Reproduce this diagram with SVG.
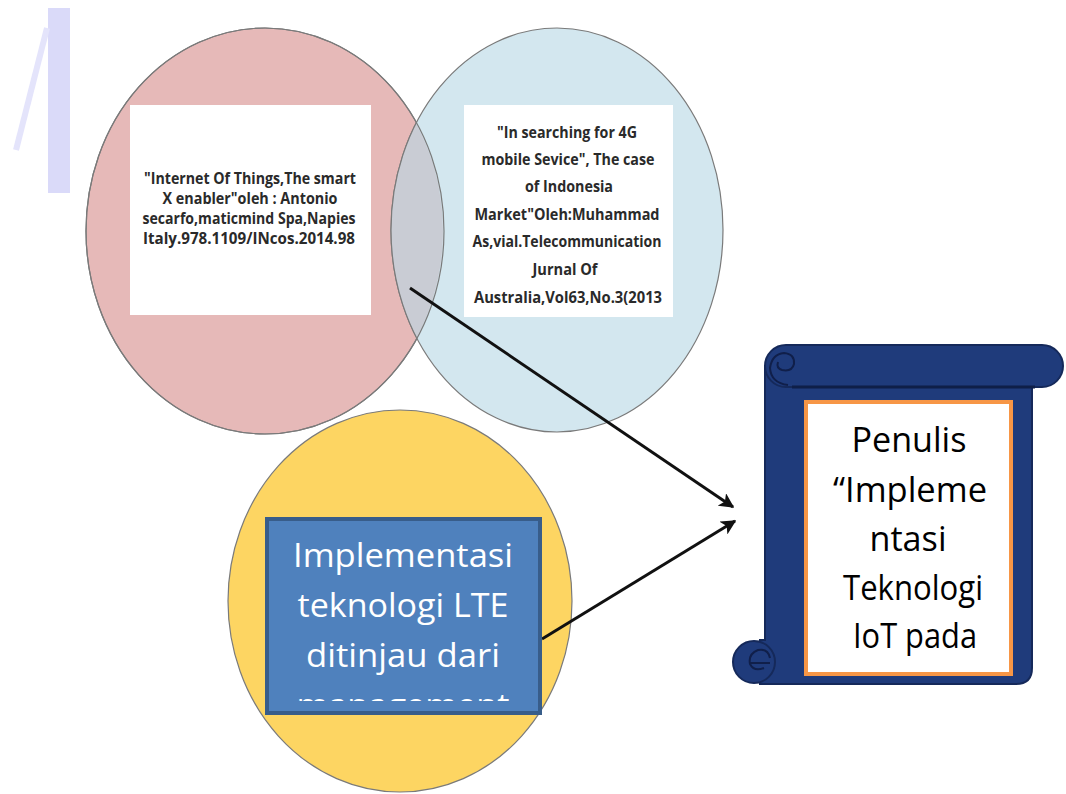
<svg xmlns="http://www.w3.org/2000/svg" width="1066" height="794" viewBox="0 0 1066 794">
<style>
.circ{stroke:#7a7a7a;stroke-width:1.2}
.ref{font-family:"Open Sans","Liberation Sans",sans-serif;font-weight:bold;fill:#2a2a2a;text-anchor:middle}
.big{font-family:"Open Sans","Liberation Sans",sans-serif;text-anchor:middle}
.scroll{fill:#1f3b7b;stroke:#15295a;stroke-width:2}
.curl{fill:none;stroke:#101f4a;stroke-width:2}
.conn{stroke:#111;stroke-width:3;fill:none;marker-end:url(#ah)}
</style>
<defs>
<marker id="ah" viewBox="0 0 10 10" refX="9" refY="5" markerWidth="5" markerHeight="5" orient="auto" markerUnits="strokeWidth">
<path d="M0,0 L10,5 L0,10 L2.5,5 z" fill="#111"/>
</marker>
<clipPath id="pinkClip"><ellipse cx="265" cy="231" rx="178" ry="203"/></clipPath>
<clipPath id="mgmtClip"><rect x="265" y="517" width="277" height="184"/></clipPath>
</defs>
<rect width="1066" height="794" fill="#fff"/>
<g id="watermark">
<rect x="48" y="8" width="22" height="185" fill="#dadaf9"/>
<line x1="47" y1="28" x2="16" y2="150" stroke="#e4e4fb" stroke-width="6"/>
</g>
<g id="node-pink">
<ellipse class="circ" cx="265" cy="231" rx="179" ry="203" fill="#e6b9b8"/>
</g>
<g id="node-blue">
<ellipse class="circ" cx="557" cy="230" rx="166" ry="202" fill="#d3e7ef"/>
<ellipse cx="557" cy="230" rx="166" ry="202" fill="#c9ccd4" stroke="#7a7a7a" stroke-width="1.2" clip-path="url(#pinkClip)"/>
<ellipse cx="265" cy="231" rx="179" ry="203" fill="none" stroke="#7a7a7a" stroke-width="1.2"/>
</g>
<g id="node-pink-text">
<rect x="130" y="105" width="241" height="210" fill="#fff"/>
<text class="ref" font-size="16"><tspan x="250" y="184" textLength="212" lengthAdjust="spacingAndGlyphs">"Internet Of Things,The  smart</tspan><tspan x="250" y="204" textLength="175" lengthAdjust="spacingAndGlyphs">X enabler"oleh : Antonio</tspan><tspan x="249" y="224" textLength="213" lengthAdjust="spacingAndGlyphs">secarfo,maticmind  Spa,Napies</tspan><tspan x="249" y="244" textLength="212" lengthAdjust="spacingAndGlyphs">Italy.978.1109/INcos.2014.98</tspan></text>
</g>
<g id="node-blue-text">
<rect x="464" y="105" width="209" height="212" fill="#fff"/>
<text class="ref" font-size="16"><tspan x="567" y="138" textLength="140" lengthAdjust="spacingAndGlyphs">"In searching for 4G</tspan><tspan x="568" y="165" textLength="173" lengthAdjust="spacingAndGlyphs">mobile Sevice", The case</tspan><tspan x="569" y="192" textLength="88" lengthAdjust="spacingAndGlyphs">of Indonesia</tspan><tspan x="567" y="220" textLength="185" lengthAdjust="spacingAndGlyphs">Market"Oleh:Muhammad</tspan><tspan x="567" y="247" textLength="189" lengthAdjust="spacingAndGlyphs">As,vial.Telecommunication</tspan><tspan x="565" y="275" textLength="65" lengthAdjust="spacingAndGlyphs">Jurnal Of</tspan><tspan x="568" y="303" textLength="188" lengthAdjust="spacingAndGlyphs">Australia,Vol63,No.3(2013</tspan></text>
</g>
<g id="node-yellow">
<ellipse class="circ" cx="400" cy="601" rx="172" ry="191" fill="#fdd562"/>
</g>
<g id="connectors">
<line class="conn" x1="410" y1="288" x2="733" y2="507"/>
<line class="conn" x1="542" y1="639" x2="735" y2="521"/>
</g>
<g id="node-lte">
<rect x="267" y="519" width="273" height="194" fill="#4f81bd" stroke="#385d8a" stroke-width="4"/>
<g clip-path="url(#mgmtClip)">
<text class="big" font-size="33" fill="#fff"><tspan x="403" y="567" textLength="220" lengthAdjust="spacingAndGlyphs">Implementasi</tspan><tspan x="403" y="617" textLength="211" lengthAdjust="spacingAndGlyphs">teknologi LTE</tspan><tspan x="403" y="667" textLength="194" lengthAdjust="spacingAndGlyphs">ditinjau dari</tspan><tspan x="403" y="717" textLength="213" lengthAdjust="spacingAndGlyphs">management</tspan></text>
</g>
</g>
<g id="node-scroll">
<path class="scroll" d="M765,366 L1032,366 L1032,668 Q1032,684 1016,684 L760,684 L760,640 L765,640 Z"/>
<circle class="scroll" cx="754" cy="662" r="21"/>
<path class="curl" d="M770,658 Q768,648 758,650 Q748,654 750,664 Q754,672 764,668 M750,663 L770,663"/>
<rect class="scroll" x="765" y="345" width="298" height="42" rx="21"/>
<line x1="792" y1="387" x2="1035" y2="387" stroke="#0f1f48" stroke-width="3"/>
<path class="curl" d="M788,385 Q771,383 770,368 Q772,354 784,353 Q795,354 794,364 Q792,372 782,370 Q776,368 778,362"/>
<rect x="806" y="402" width="205" height="272" fill="#fff" stroke="#f79646" stroke-width="4"/>
<text class="big" font-size="35" fill="#000"><tspan x="909" y="452" textLength="115" lengthAdjust="spacingAndGlyphs">Penulis</tspan><tspan x="910" y="502" textLength="154" lengthAdjust="spacingAndGlyphs">“Impleme</tspan><tspan x="908" y="551" textLength="77" lengthAdjust="spacingAndGlyphs">ntasi</tspan><tspan x="913" y="600" textLength="140" lengthAdjust="spacingAndGlyphs">Teknologi</tspan><tspan x="915" y="648" textLength="124" lengthAdjust="spacingAndGlyphs">IoT pada</tspan></text>
</g>
</svg>
